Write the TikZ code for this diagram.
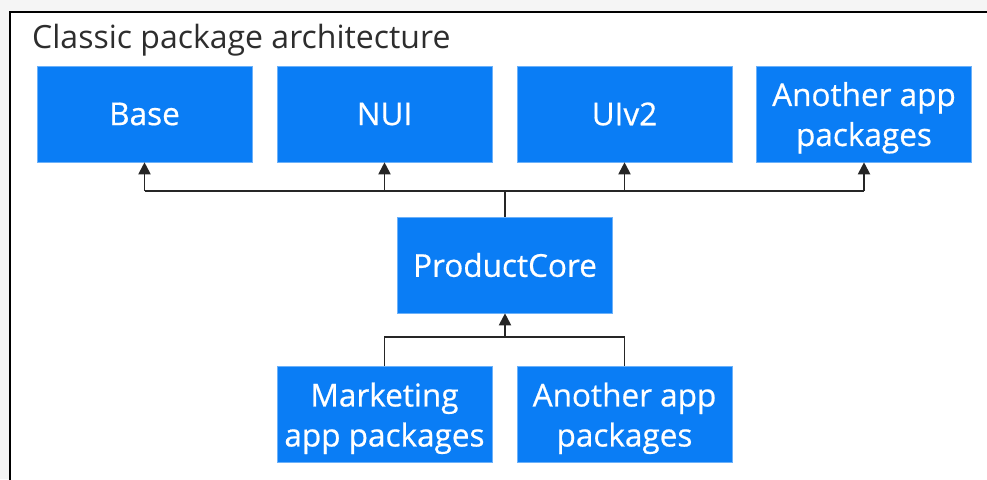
\documentclass[tikz,border=0pt]{standalone}
\usepackage{fontspec}
\setmainfont{Open Sans}
\newfontfamily\boxfont[FakeBold=0.6]{Open Sans}
\usetikzlibrary{arrows.meta}
\definecolor{boxblue}{RGB}{10,125,245}
\definecolor{bggray}{RGB}{245,245,245}
\definecolor{titlegray}{RGB}{45,45,45}
\tikzset{
  pkg/.style={fill=boxblue, draw=boxblue!60!white, line width=0.6pt, text=white, minimum width=215pt, minimum height=96pt, align=center, inner sep=0pt, font=\boxfont\fontsize{31.5}{40}\selectfont},
  twoline/.style={text depth=-1pt},
  conn/.style={draw=black!85, line width=1.9pt},
  arr/.style={conn, -{Triangle[width=12pt,length=12pt]}}
}
\begin{document}
\begin{tikzpicture}[x=1pt,y=1pt]
\useasboundingbox (0,0) rectangle (987,-479);
\fill[bggray] (0,0) rectangle (987,-479);
\fill[white] (10,-12) rectangle (995,-495);
\draw[black, line width=1.6pt] (10,-490) -- (10,-12) -- (995,-12);
\node[anchor=base west, text=titlegray, font=\fontsize{32}{36}\selectfont, inner sep=0pt] (title) at (32,-48) {Classic package architecture};
\node[pkg] (base) at (144.5,-114) {Base};
\node[pkg] (nui) at (384.5,-114) {NUI};
\node[pkg] (uiv2) at (624.5,-114) {UIv2};
\node[pkg, twoline] (another1) at (864,-114) {Another app\\packages};
\node[pkg] (core) at (505,-265) {ProductCore};
\node[pkg, twoline] (marketing) at (384.5,-414.5) {Marketing\\app packages};
\node[pkg, twoline] (another2) at (624.5,-414.5) {Another app\\packages};
\coordinate (bus) at (505,-191);
\coordinate (lowbus) at (505,-337);
\draw[conn] (core.north) -- (bus);
\draw[conn] (base.south |- bus) -- (another1.south |- bus);
\foreach \n in {base,nui,uiv2,another1}{
  \draw[arr] (\n.south |- bus) -- (\n.south);
}
\draw[conn] (marketing.north) -- (marketing.north |- lowbus) -- (another2.north |- lowbus) -- (another2.north);
\draw[arr] (lowbus) -- (core.south);
\end{tikzpicture}
\end{document}
